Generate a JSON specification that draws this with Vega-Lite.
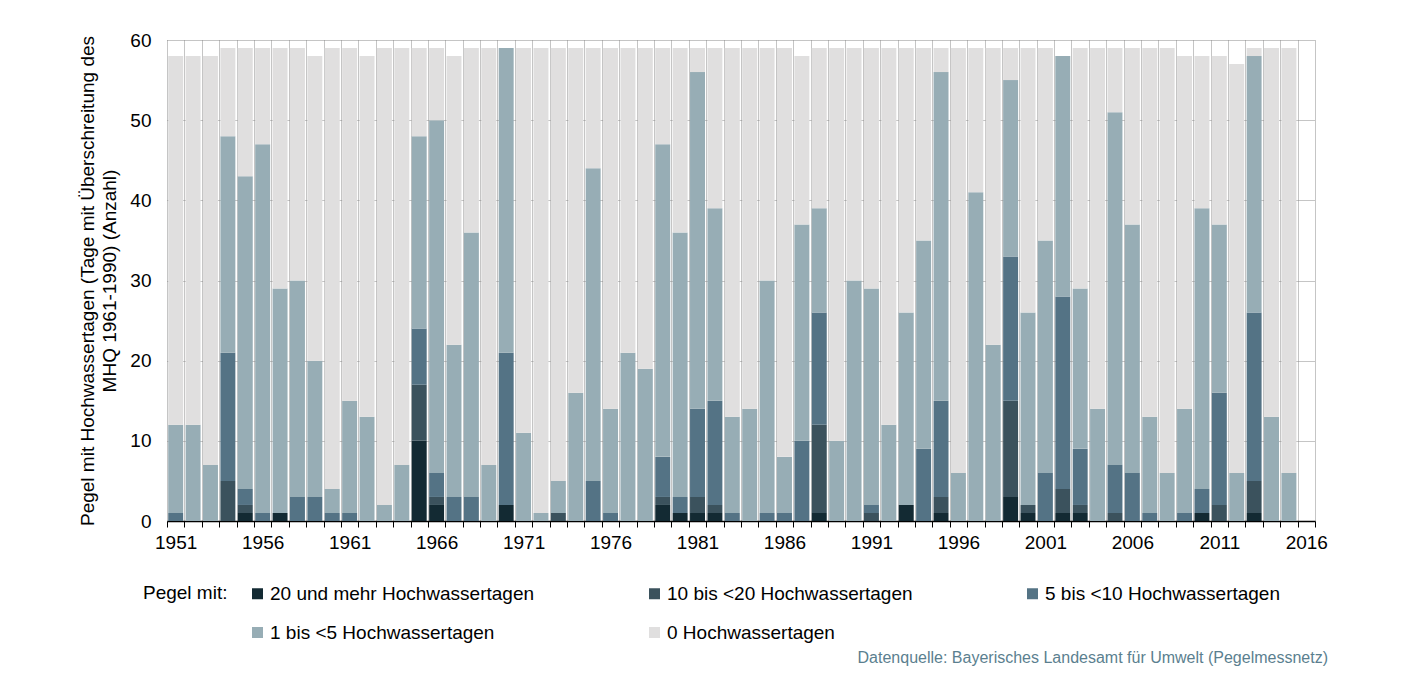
{
  "$schema": "https://vega.github.io/schema/vega-lite/v6.json",
  "width": 1148,
  "height": 481,
  "autosize": {"type": "none"},
  "padding": {"left": 167, "top": 40, "right": 87, "bottom": 163},
  "background": "#ffffff",
  "config": {
    "font": "Liberation Sans",
    "view": {"stroke": null},
    "axis": {"labelFont": "Liberation Sans", "titleFont": "Liberation Sans", "labelColor": "#000000", "titleColor": "#000000"},
    "legend": {"labelFont": "Liberation Sans", "titleFont": "Liberation Sans"}
  },
  "title": {
    "text": "Datenquelle: Bayerisches Landesamt für Umwelt (Pegelmessnetz)",
    "orient": "bottom",
    "anchor": "end",
    "frame": "group",
    "offset": 7,
    "dx": 13,
    "fontSize": 16,
    "fontWeight": "normal",
    "color": "#5b7f8f",
    "font": "Liberation Sans"
  },
  "data": {
    "values": [
      {"year": 1951, "a20": 0, "b10": 0, "c5": 1, "d1": 11, "e0": 46},
      {"year": 1952, "a20": 0, "b10": 0, "c5": 0, "d1": 12, "e0": 46},
      {"year": 1953, "a20": 0, "b10": 0, "c5": 0, "d1": 7, "e0": 51},
      {"year": 1954, "a20": 0, "b10": 5, "c5": 16, "d1": 27, "e0": 11},
      {"year": 1955, "a20": 1, "b10": 1, "c5": 2, "d1": 39, "e0": 16},
      {"year": 1956, "a20": 0, "b10": 0, "c5": 1, "d1": 46, "e0": 12},
      {"year": 1957, "a20": 1, "b10": 0, "c5": 0, "d1": 28, "e0": 30},
      {"year": 1958, "a20": 0, "b10": 0, "c5": 3, "d1": 27, "e0": 29},
      {"year": 1959, "a20": 0, "b10": 0, "c5": 3, "d1": 17, "e0": 38},
      {"year": 1960, "a20": 0, "b10": 0, "c5": 1, "d1": 3, "e0": 55},
      {"year": 1961, "a20": 0, "b10": 0, "c5": 1, "d1": 14, "e0": 44},
      {"year": 1962, "a20": 0, "b10": 0, "c5": 0, "d1": 13, "e0": 45},
      {"year": 1963, "a20": 0, "b10": 0, "c5": 0, "d1": 2, "e0": 57},
      {"year": 1964, "a20": 0, "b10": 0, "c5": 0, "d1": 7, "e0": 52},
      {"year": 1965, "a20": 10, "b10": 7, "c5": 7, "d1": 24, "e0": 11},
      {"year": 1966, "a20": 2, "b10": 1, "c5": 3, "d1": 44, "e0": 9},
      {"year": 1967, "a20": 0, "b10": 0, "c5": 3, "d1": 19, "e0": 36},
      {"year": 1968, "a20": 0, "b10": 0, "c5": 3, "d1": 33, "e0": 23},
      {"year": 1969, "a20": 0, "b10": 0, "c5": 0, "d1": 7, "e0": 52},
      {"year": 1970, "a20": 2, "b10": 0, "c5": 19, "d1": 38, "e0": 0},
      {"year": 1971, "a20": 0, "b10": 0, "c5": 0, "d1": 11, "e0": 48},
      {"year": 1972, "a20": 0, "b10": 0, "c5": 0, "d1": 1, "e0": 58},
      {"year": 1973, "a20": 0, "b10": 1, "c5": 0, "d1": 4, "e0": 54},
      {"year": 1974, "a20": 0, "b10": 0, "c5": 0, "d1": 16, "e0": 43},
      {"year": 1975, "a20": 0, "b10": 0, "c5": 5, "d1": 39, "e0": 15},
      {"year": 1976, "a20": 0, "b10": 0, "c5": 1, "d1": 13, "e0": 45},
      {"year": 1977, "a20": 0, "b10": 0, "c5": 0, "d1": 21, "e0": 38},
      {"year": 1978, "a20": 0, "b10": 0, "c5": 0, "d1": 19, "e0": 40},
      {"year": 1979, "a20": 2, "b10": 1, "c5": 5, "d1": 39, "e0": 12},
      {"year": 1980, "a20": 1, "b10": 0, "c5": 2, "d1": 33, "e0": 23},
      {"year": 1981, "a20": 1, "b10": 2, "c5": 11, "d1": 42, "e0": 3},
      {"year": 1982, "a20": 1, "b10": 1, "c5": 13, "d1": 24, "e0": 20},
      {"year": 1983, "a20": 0, "b10": 0, "c5": 1, "d1": 12, "e0": 46},
      {"year": 1984, "a20": 0, "b10": 0, "c5": 0, "d1": 14, "e0": 45},
      {"year": 1985, "a20": 0, "b10": 0, "c5": 1, "d1": 29, "e0": 29},
      {"year": 1986, "a20": 0, "b10": 0, "c5": 1, "d1": 7, "e0": 51},
      {"year": 1987, "a20": 0, "b10": 0, "c5": 10, "d1": 27, "e0": 21},
      {"year": 1988, "a20": 1, "b10": 11, "c5": 14, "d1": 13, "e0": 20},
      {"year": 1989, "a20": 0, "b10": 0, "c5": 0, "d1": 10, "e0": 49},
      {"year": 1990, "a20": 0, "b10": 0, "c5": 0, "d1": 30, "e0": 29},
      {"year": 1991, "a20": 0, "b10": 1, "c5": 1, "d1": 27, "e0": 30},
      {"year": 1992, "a20": 0, "b10": 0, "c5": 0, "d1": 12, "e0": 47},
      {"year": 1993, "a20": 2, "b10": 0, "c5": 0, "d1": 24, "e0": 33},
      {"year": 1994, "a20": 0, "b10": 0, "c5": 9, "d1": 26, "e0": 24},
      {"year": 1995, "a20": 1, "b10": 2, "c5": 12, "d1": 41, "e0": 3},
      {"year": 1996, "a20": 0, "b10": 0, "c5": 0, "d1": 6, "e0": 53},
      {"year": 1997, "a20": 0, "b10": 0, "c5": 0, "d1": 41, "e0": 18},
      {"year": 1998, "a20": 0, "b10": 0, "c5": 0, "d1": 22, "e0": 37},
      {"year": 1999, "a20": 3, "b10": 12, "c5": 18, "d1": 22, "e0": 4},
      {"year": 2000, "a20": 1, "b10": 1, "c5": 0, "d1": 24, "e0": 33},
      {"year": 2001, "a20": 0, "b10": 0, "c5": 6, "d1": 29, "e0": 24},
      {"year": 2002, "a20": 1, "b10": 3, "c5": 24, "d1": 30, "e0": 0},
      {"year": 2003, "a20": 1, "b10": 1, "c5": 7, "d1": 20, "e0": 30},
      {"year": 2004, "a20": 0, "b10": 0, "c5": 0, "d1": 14, "e0": 45},
      {"year": 2005, "a20": 0, "b10": 1, "c5": 6, "d1": 44, "e0": 8},
      {"year": 2006, "a20": 0, "b10": 0, "c5": 6, "d1": 31, "e0": 22},
      {"year": 2007, "a20": 0, "b10": 0, "c5": 1, "d1": 12, "e0": 46},
      {"year": 2008, "a20": 0, "b10": 0, "c5": 0, "d1": 6, "e0": 53},
      {"year": 2009, "a20": 0, "b10": 0, "c5": 1, "d1": 13, "e0": 44},
      {"year": 2010, "a20": 1, "b10": 0, "c5": 3, "d1": 35, "e0": 19},
      {"year": 2011, "a20": 0, "b10": 2, "c5": 14, "d1": 21, "e0": 21},
      {"year": 2012, "a20": 0, "b10": 0, "c5": 0, "d1": 6, "e0": 51},
      {"year": 2013, "a20": 1, "b10": 4, "c5": 21, "d1": 32, "e0": 1},
      {"year": 2014, "a20": 0, "b10": 0, "c5": 0, "d1": 13, "e0": 46},
      {"year": 2015, "a20": 0, "b10": 0, "c5": 0, "d1": 6, "e0": 53}
    ]
  },
  "transform": [
    {"fold": ["a20", "b10", "c5", "d1", "e0"], "as": ["klasse", "anzahl"]}
  ],
  "mark": {"type": "bar", "width": {"band": 0.86}},
  "encoding": {
    "x": {
      "field": "year",
      "type": "ordinal",
      "scale": {
        "domain": [1951,1952,1953,1954,1955,1956,1957,1958,1959,1960,1961,1962,1963,1964,1965,1966,1967,1968,1969,1970,1971,1972,1973,1974,1975,1976,1977,1978,1979,1980,1981,1982,1983,1984,1985,1986,1987,1988,1989,1990,1991,1992,1993,1994,1995,1996,1997,1998,1999,2000,2001,2002,2003,2004,2005,2006,2007,2008,2009,2010,2011,2012,2013,2014,2015,2016],
        "paddingInner": 0,
        "paddingOuter": 0
      },
      "axis": {
        "title": null,
        "tickBand": "extent",
        "labelAngle": 0,
        "labelExpr": "(+datum.value - 1951) % 5 === 0 ? datum.value : ''",
        "labelFontSize": 19,
        "labelPadding": 6,
        "labelBound": false,
        "labelOverlap": false,
        "domainColor": "#000000",
        "domainWidth": 1.5,
        "tickColor": "#000000",
        "tickSize": 6,
        "tickWidth": 1,
        "grid": true,
        "gridColor": "#8a8a8a",
        "gridDash": [1, 1],
        "gridWidth": 1
      }
    },
    "y": {
      "field": "anzahl",
      "type": "quantitative",
      "stack": "zero",
      "scale": {"domain": [0, 60], "nice": false},
      "axis": {
        "title": ["Pegel mit Hochwassertagen (Tage mit Überschreitung des", "MHQ 1961-1990) (Anzahl)"],
        "titleFontSize": 19,
        "titleFontWeight": "normal",
        "titleLineHeight": 22,
        "titlePadding": 10,
        "values": [0, 10, 20, 30, 40, 50, 60],
        "labelFontSize": 19,
        "labelPadding": 16,
        "ticks": false,
        "domain": false,
        "grid": true,
        "gridColor": "#8a8a8a",
        "gridDash": [1, 1],
        "gridWidth": 1
      }
    },
    "color": {
      "field": "klasse",
      "type": "nominal",
      "scale": {
        "domain": ["a20", "b10", "c5", "d1", "e0"],
        "range": ["#132a33", "#3b525d", "#547385", "#97adb5", "#e0dfdf"]
      },
      "legend": {
        "orient": "none",
        "legendX": -24,
        "legendY": 544,
        "direction": "horizontal",
        "columns": 3,
        "gridAlign": "each",
        "columnPadding": 110,
        "rowPadding": 19,
        "title": "Pegel mit:",
        "titleOrient": "left",
        "titleAnchor": "start",
        "titleBaseline": "top",
        "titleFontSize": 19,
        "titleFontWeight": "normal",
        "titleColor": "#000000",
        "titlePadding": 20,
        "labelFontSize": 19,
        "labelLimit": 0,
        "labelColor": "#000000",
        "labelOffset": 3,
        "symbolType": "square",
        "symbolSize": 121,
        "symbolStrokeWidth": 0,
        "labelExpr": "{'a20':'20 und mehr Hochwassertagen','b10':'10 bis <20 Hochwassertagen','c5':'5 bis <10 Hochwassertagen','d1':'1 bis <5 Hochwassertagen','e0':'0 Hochwassertagen'}[datum.label]"
      }
    },
    "order": {"field": "klasse", "sort": "ascending"}
  }
}
